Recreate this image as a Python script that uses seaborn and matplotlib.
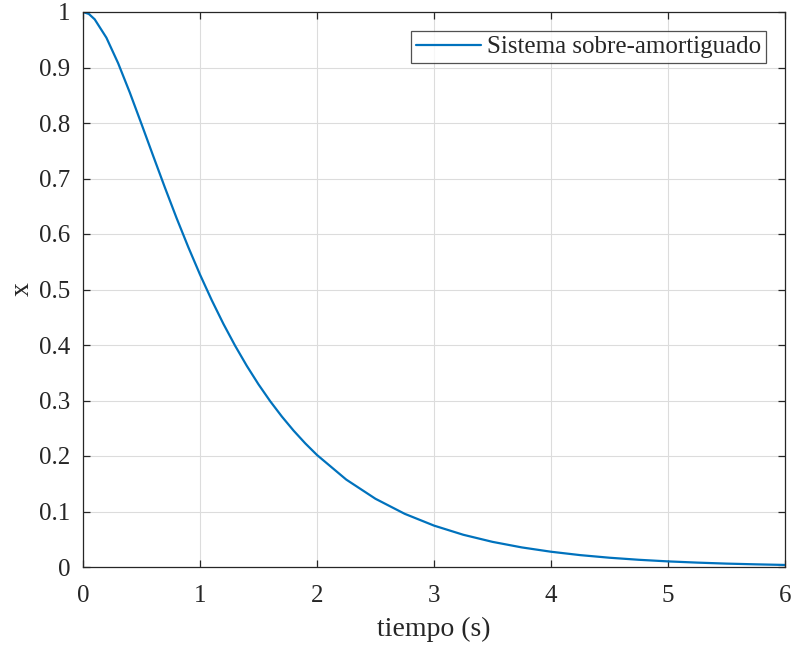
import matplotlib
matplotlib.use("Agg")
import matplotlib.pyplot as plt
import seaborn as sns
import pandas as pd

# Step response of the overdamped system (time in seconds, displacement x)
tiempo = [0.0, 0.05, 0.1, 0.2, 0.3, 0.4, 0.5, 0.6, 0.7, 0.8, 0.9,
          1.0, 1.1, 1.2, 1.3, 1.4, 1.5, 1.6, 1.7, 1.8, 1.9, 2.0,
          2.25, 2.5, 2.75, 3.0, 3.25, 3.5, 3.75, 4.0, 4.25, 4.5,
          4.75, 5.0, 5.25, 5.5, 5.75, 6.0]
desplazamiento = [1.000, 0.9965, 0.9868, 0.9537, 0.9079, 0.8549, 0.7982,
                  0.7406, 0.6837, 0.6286, 0.5763, 0.5269, 0.4809, 0.4381,
                  0.3987, 0.3624, 0.3291, 0.2987, 0.2710, 0.2457, 0.2227,
                  0.2018, 0.1575, 0.1229, 0.0958, 0.0746, 0.0581, 0.0453,
                  0.0353, 0.0275, 0.0214, 0.0167, 0.0130, 0.0101, 0.0079,
                  0.0061, 0.0048, 0.0037]
serie = "Sistema sobre-amortiguado"

x_ticks = [0, 1, 2, 3, 4, 5, 6]
y_ticks = [0, 0.1, 0.2, 0.3, 0.4, 0.5, 0.6, 0.7, 0.8, 0.9, 1]
y_labels = ["0", "0.1", "0.2", "0.3", "0.4", "0.5", "0.6", "0.7", "0.8", "0.9", "1"]

df = pd.DataFrame({"t": tiempo, "x": desplazamiento, "serie": serie})

sns.set_theme(style="white")
plt.rcParams["font.family"] = ["Liberation Serif", "DejaVu Serif"]

fig = plt.figure(figsize=(7.95, 6.47), dpi=100)
ax = fig.add_axes([83 / 795, 1 - 567 / 647, (785 - 83) / 795, (567 - 12) / 647])

sns.lineplot(data=df, x="t", y="x", hue="serie", palette=["#0072BD"],
             linewidth=1.6, ax=ax, estimator=None, sort=False)

ax.set_xlim(0, 6)
ax.set_ylim(0, 1)
ax.set_xticks(x_ticks)
ax.set_yticks(y_ticks)
ax.set_yticklabels(y_labels)
ax.grid(True, color="#dcdcdc", linewidth=0.8)
ax.set_axisbelow(True)

axis_color = "#262626"
for s in ax.spines.values():
    s.set_visible(True)
    s.set_color(axis_color)
    s.set_linewidth(0.9)
ax.tick_params(axis="both", direction="in", length=5, width=0.9,
               colors=axis_color, labelcolor=axis_color, labelsize=18,
               top=True, right=True, bottom=True, left=True)
ax.tick_params(axis="y", pad=9)
ax.tick_params(axis="x", pad=13)

ax.set_xlabel("tiempo (s)", fontsize=20, color=axis_color, labelpad=7)
ax.set_ylabel("x", fontsize=20, color=axis_color, labelpad=3)

leg = ax.legend(loc="upper right", fontsize=18, frameon=True, fancybox=False,
                edgecolor=axis_color, handlelength=2.6, handletextpad=0.25,
                borderpad=0.2, borderaxespad=0.75)
leg.get_frame().set_linewidth(0.9)
leg.set_title(None)

fig.savefig("out.png", dpi=100)
